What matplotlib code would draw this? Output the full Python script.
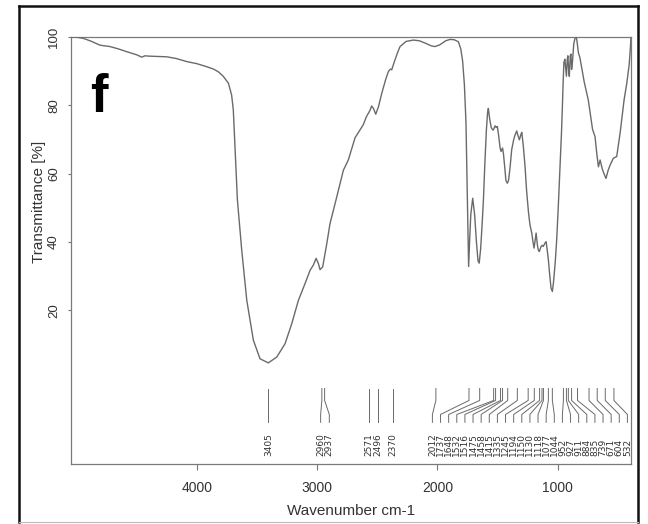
import matplotlib
matplotlib.use("Agg")
import matplotlib.pyplot as plt
from matplotlib.lines import Line2D
import numpy as np

# spectrum (wavenumber cm-1, transmittance %)
wn = [5045, 4990, 4943, 4880, 4804, 4721, 4650, 4582, 4500, 4457, 4430, 4400, 4330, 4249,
      4170, 4083, 4000, 3917, 3860, 3820, 3780, 3737, 3710, 3696, 3681, 3662, 3626, 3584,
      3529, 3474, 3405, 3335, 3266, 3210, 3155, 3100, 3058, 3031, 3008, 2989, 2975, 2953,
      2919, 2892, 2836, 2781, 2740, 2684, 2616, 2589, 2560, 2546, 2530, 2512, 2490, 2462,
      2430, 2407, 2390, 2379, 2360, 2330, 2310, 2260, 2199, 2150, 2100, 2050, 2020, 1980,
      1930, 1894, 1860, 1825, 1805, 1790, 1775, 1762, 1752, 1745, 1740, 1732, 1722, 1706,
      1690, 1675, 1662, 1652, 1640, 1628, 1617, 1605, 1592, 1582, 1576, 1565, 1552, 1540,
      1534, 1520, 1510, 1501, 1490, 1478, 1470, 1458, 1451, 1440, 1430, 1418, 1408, 1395,
      1382, 1365, 1354, 1340, 1335, 1318, 1305, 1298, 1285, 1271, 1258, 1243, 1230, 1215,
      1205, 1196, 1185, 1179, 1168, 1160, 1152, 1140, 1130, 1119, 1108, 1096, 1088, 1077,
      1065, 1055, 1044, 1035, 1020, 1008, 995, 980, 968, 962, 955, 948, 940, 932, 927, 920,
      915, 908, 903, 895, 889, 884, 876, 866, 855, 845, 838, 828, 814, 800, 780, 758, 745,
      725, 710, 689, 675, 661, 647, 630, 615, 598, 580, 564, 537, 509, 481, 448, 425, 405,
      395, 391]
trans = [100.0, 99.9, 99.6, 98.8, 97.6, 97.2, 96.5, 95.7, 94.8, 94.1, 94.5, 94.4, 94.3, 94.2,
         93.7, 92.8, 92.2, 91.3, 90.6, 89.8, 88.5, 86.5, 83.0, 78.7, 67.0, 52.3, 37.6, 22.9,
         11.2, 5.8, 4.6, 6.3, 10.2, 16.1, 22.9, 27.8, 31.7, 33.2, 35.2, 33.7, 31.9, 32.7,
         39.5, 45.4, 53.2, 61.0, 64.0, 70.5, 74.3, 76.7, 78.5, 79.8, 79.0, 77.4, 79.5, 83.5,
         87.5, 89.9, 90.6, 90.4, 92.5, 95.5, 97.2, 98.7, 99.1, 98.9, 98.2, 97.4, 97.2, 97.7,
         98.9, 99.3, 99.2, 98.6, 96.5, 93.0, 86.0, 75.0, 55.0, 40.0, 32.8, 40.0, 48.0, 52.8,
         48.0, 40.0, 34.5, 33.8, 38.0, 45.0, 52.3, 63.0, 73.0, 78.0, 79.1, 76.0, 73.5, 72.8,
         72.8, 74.0, 73.5, 73.8, 71.0, 67.5, 66.5, 67.5, 66.0, 62.0, 58.0, 57.2, 58.0, 62.0,
         67.0, 70.0, 71.3, 72.5, 71.8, 69.9, 71.5, 72.1, 68.0, 62.1, 55.0, 48.9, 45.0, 42.6,
         40.0, 38.2, 41.0, 42.6, 39.0, 37.5, 37.2, 38.5, 39.0, 38.7, 39.5, 40.1, 38.0, 34.8,
         30.0, 26.5, 25.5, 28.0, 34.0, 40.6, 50.0, 62.0, 72.0, 78.0, 86.0, 92.5, 93.5, 90.5,
         88.5, 93.5, 94.5, 90.0, 88.5, 94.5, 95.0, 90.5, 93.0, 98.0, 99.7, 100.0, 98.5, 95.5,
         93.8, 91.0, 87.0, 83.5, 81.5, 76.7, 73.0, 70.8, 66.0, 62.0, 64.0, 61.5, 60.0, 58.6,
         61.0, 62.5, 64.5, 65.0, 71.8, 81.5, 86.5, 92.0, 97.0, 99.5]

# peak annotations
peaks = [3405, 2960, 2937, 2571, 2496, 2370, 2012, 1737, 1648, 1532, 1516, 1475, 1458,
         1415, 1335, 1245, 1194, 1150, 1130, 1118, 1077, 1044, 952, 927, 911, 884, 835,
         739, 671, 604, 532]

xticks = [4000, 3000, 2000, 1000]
yticks = [20, 40, 60, 80, 100]

line_col = '#6a6a6a'

fig = plt.figure(figsize=(6.48, 5.24), dpi=100, facecolor='white')
ax = fig.add_axes([0.1096, 0.1145, 0.8642, 0.8149])

ax.plot(wn, trans, color=line_col, lw=1.0, zorder=3)

ax.set_xlim(5045, 390)
ax.set_ylim(-25, 100)

for s in ax.spines.values():
    s.set_color('#7a7a7a')
    s.set_linewidth(0.9)

ax.set_xticks(xticks)
ax.set_xticklabels([str(t) for t in xticks], fontsize=10,
                   family=['Liberation Sans Narrow', 'Liberation Sans', 'DejaVu Sans'])
ax.set_yticks(yticks)
ax.set_yticklabels([str(t) for t in yticks], fontsize=9.5, rotation=90, va='center',
                   family=['Liberation Sans', 'DejaVu Sans'])
ax.tick_params(axis='x', direction='out', length=4, width=0.8, color='#777777',
               pad=8, colors='#333333')
ax.tick_params(axis='y', direction='out', length=2.5, width=0.8, color='#777777',
               pad=5.5, colors='#333333')

ax.set_xlabel('Wavenumber cm-1', fontsize=11, color='#333333',
              family=['Liberation Sans Narrow', 'Liberation Sans', 'DejaVu Sans'])
ax.xaxis.set_label_coords(0.5, -0.094)
ax.set_ylabel('Transmittance [%]', fontsize=11, color='#333333',
              family=['Liberation Sans', 'DejaVu Sans'])
ax.yaxis.set_label_coords(-0.044, 0.614)

# leader lines + labels, labels spread out where peaks are crowded
label_x = [3405, 2970, 2898, 2571, 2496, 2370] + list(np.linspace(2041, 420, 25))
y_top, y_b1, y_b2, y_end, y_lab = -2.9, -6.4, -10.5, -12.8, -22.8
for p, lx in zip(peaks, label_x):
    ax.plot([p, p, lx, lx], [y_top, y_b1, y_b2, y_end], color=line_col, lw=0.7)
    ax.text(lx, y_lab, str(p), rotation=90, ha='center', va='bottom', fontsize=6.5,
            color='#333333', family='DejaVu Sans')

ax.text(0.034, 0.824, 'f', transform=ax.transAxes, fontsize=38, fontweight='bold',
        family=['Liberation Sans', 'DejaVu Sans'], va='baseline', ha='left', color='black')

# outer frame
x0, x1 = 19 / 648, 638 / 648
y0, y1 = 1 - 522 / 524, 1 - 6 / 524
for xs, ys, c, w in [([x0, x0], [y0, y1], '#111111', 1.8),
                     ([x0, x1], [y1, y1], '#111111', 1.8),
                     ([x1, x1], [y1, y0], '#111111', 1.8),
                     ([x0, x1], [y0, y0], '#bbbbbb', 0.8)]:
    fig.add_artist(Line2D(xs, ys, color=c, lw=w, transform=fig.transFigure))

fig.savefig('out.png', dpi=100, facecolor='white')
